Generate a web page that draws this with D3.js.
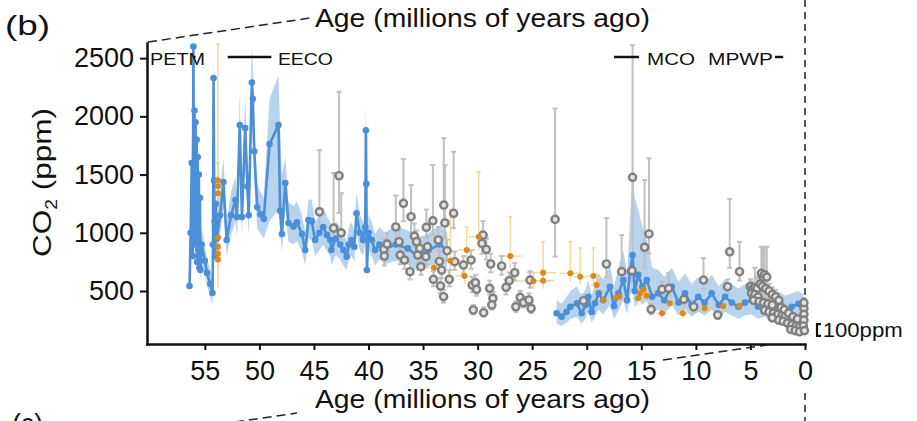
<!DOCTYPE html>
<html><head><meta charset="utf-8">
<script src="https://cdn.jsdelivr.net/npm/d3@7"></script>
<style>
html,body{margin:0;padding:0;background:#fff;}
svg{display:block;font-family:"Liberation Sans",Arial,Helvetica,sans-serif;}
</style></head><body>
<svg id="chart" width="917" height="421"></svg>
<script>
// ---------------- DATA ----------------
const xTicks = [55,50,45,40,35,30,25,20,15,10,5,0];
const yTicks = [500,1000,1500,2000,2500];

// Blue series (line + points + uncertainty band); null = gap
const blueAge = [56.4,56.3,56.2,56.1,56.05,56.0,55.95,55.9,55.85,55.8,55.75,55.7,55.65,55.6,55.55,55.5,55.45,55.4,55.3,55.0,54.8,54.5,54.3,54.25,54.2,54.15,54.1,54.05,54.0,53.9,53.6,53.3,53.0,52.6,52.2,52.05,51.8,51.6,51.3,51.1,50.98,50.69,50.6,50.47,50.2,49.9,49.6,49.07,48.25,48.1,47.94,47.63,47.33,46.87,46.56,46.1,45.8,45.5,45.2,44.9,44.5,44.15,43.8,43.5,43.4,43.0,42.6,42.3,42.0,41.8,41.55,41.3,41.1,40.8,40.5,40.3,40.24,40.2,40.15,40.0,39.7,39.4,39.0,38.5,37.5,36.4,35.5,34.5,33.5,32.8,
  27.8,
  22.76,22.3,21.85,21.5,20.9,20.47,20.1,19.86,19.55,19.25,18.9,18.5,17.87,17.5,17.1,16.65,16.3,16.04,15.8,15.6,15.28,14.9,14.5,14.0,13.45,12.9,12.2,11.6,11.0,10.4,9.78,9.2,8.55,7.9,7.33,6.7,6.11,5.5,4.89,4.3,3.7,3.05,2.5,1.8,1.22,0.6,0.15];
const blueCO2 = [543,1000,1600,800,2600,1350,2050,900,1950,1000,1800,750,1650,850,1500,700,1300,680,900,760,655,560,483,900,2330,1450,1100,800,1250,950,1150,1436,938,1150,1281,1135,1925,1135,1900,1400,1150,2290,2150,1700,1220,1160,1120,1763,1925,1190,990,1427,1084,1055,1090,990,852,1110,1100,938,1000,1050,980,938,852,950,900,852,795,900,938,880,1167,1000,938,1050,1880,1420,680,1000,938,852,900,860,900,866,800,850,900,850,
  null,
  309,280,322,365,394,309,380,451,320,394,480,420,537,370,480,594,420,666,809,500,640,537,594,450,480,420,537,400,480,380,451,400,480,380,451,400,365,400,423,365,394,337,365,330,365,390,365];
const blueLow = [430,820,1350,650,2250,1150,1800,750,1700,850,1550,620,1420,700,1280,580,1100,560,760,640,540,450,370,750,2050,1250,940,670,1050,800,980,1220,800,980,1100,970,1650,970,1630,1200,980,1950,1850,1450,1040,990,950,1100,1200,1000,840,1200,920,900,930,840,720,950,940,800,850,900,840,800,720,810,770,720,680,770,800,750,1000,850,800,900,1600,1200,580,850,800,720,770,730,760,730,670,710,750,700,
  null,
  220,200,230,260,280,220,270,320,230,280,340,300,380,260,330,420,300,450,520,350,430,380,420,320,340,300,380,290,340,280,320,290,340,270,320,290,260,290,300,260,280,240,260,230,260,280,250];
const blueHigh = [680,1200,1850,950,2630,1550,2300,1050,2200,1150,2050,880,1900,1000,1700,820,1500,800,1050,900,780,680,600,1050,2630,1650,1280,950,1450,1120,1350,1650,1100,1350,1480,1320,2200,1320,2180,1620,1340,2600,2450,1950,1420,1350,1300,2150,2350,1900,1500,1650,1260,1230,1270,1150,1000,1290,1280,1090,1160,1220,1140,1090,990,1100,1050,990,930,1050,1090,1020,1350,1160,1090,1220,2150,1650,800,1160,1090,990,1050,1000,1060,1020,950,1000,1060,1010,
  null,
  420,390,450,500,540,450,520,600,460,560,650,600,720,540,700,850,650,1100,1600,1300,1200,1050,950,700,680,620,700,580,650,560,620,560,640,540,600,560,520,560,580,520,540,480,500,460,480,500,470];

// Gray proxy points (open circles) with vertical error bars
const grayAge = [44.5,43.2,42.7,42.5,38.6,38.55,38.3,37.5,37.2,37.1,36.8,36.7,36.2,36.1,35.8,35.6,35.5,35.3,35.2,34.75,34.6,34.7,34.1,34.05,33.6,33.5,33.3,33.4,33.1,33.0,33.12,32.8,32.6,32.2,32.1,31.3,30.6,30.5,30.4,29.5,29.6,29.2,30.2,30.1,29.45,28.8,28.9,28.6,28.7,27.8,27.4,27.1,26.6,26.5,26.1,25.8,25.3,25.2,25.1,22.9,20.3,18.2,16.8,15.8,15.85,14.7,14.3,14.1,13.1,12.5,11.1,10.2,9.3,8.0,7.1,6.9,6.0,5.0,4.0,3.85,
  5.0,4.8,4.6,4.4,4.9,4.6,4.3,4.7,4.2,3.8,3.4,3.0,3.7,3.5,4.1,3.9,3.6,3.3,3.0,2.7,2.4,3.7,3.3,2.9,2.5,2.1,1.8,3.0,2.4,2.0,1.6,1.2,0.8,0.5,2.2,1.9,1.5,1.1,0.7,1.3,0.9,0.5,0.1,0.1,0.1,0.15,0.05,0.1];
const grayCO2 = [1180,1040,1490,1000,857,800,903,1050,923,809,1253,766,666,1138,972,923,809,866,709,795,880,1047,1103,600,938,754,680,543,1238,1084,451,846,600,1167,752,723,766,551,337,980,909,857,571,514,314,732,523,437,380,715,532,589,657,365,446,400,423,594,351,1115,417,732,666,1476,675,875,990,343,514,523,429,365,594,294,537,837,666,537,652,620,
  540,520,530,520,480,470,450,420,410,400,390,380,640,620,560,540,520,500,470,450,420,335,320,310,300,290,285,270,250,240,225,210,200,195,360,340,310,280,260,170,160,150,350,300,250,200,160,400];
const grayLow = [1050,950,1170,900,780,720,820,950,840,730,1100,690,600,1000,880,840,730,780,640,720,800,950,980,540,850,680,610,480,1100,960,400,760,540,1040,680,650,690,490,300,880,820,770,510,460,280,660,470,390,340,640,470,530,590,320,400,360,380,530,310,795,370,620,580,700,590,700,820,300,460,470,380,320,520,260,480,700,590,480,580,560,
  490,470,480,470,430,420,400,380,370,360,350,340,580,560,500,490,470,450,420,400,380,300,290,280,270,260,255,240,220,210,200,185,180,175,320,300,280,250,230,150,140,135,310,270,225,180,145,360];
const grayHigh = [1710,1513,2210,1340,950,880,1000,1320,1020,900,1633,850,760,1410,1080,1020,900,960,790,880,970,1200,1582,670,1050,840,760,610,1813,1580,510,940,680,1696,840,800,850,620,380,1100,1000,950,640,580,360,820,590,490,430,800,600,660,740,410,500,450,480,670,400,2068,470,1126,980,2611,800,1453,1640,390,580,654,480,410,783,330,600,1290,923,600,880,880,
  600,580,700,620,540,530,510,470,460,450,440,430,860,880,630,600,580,560,530,510,470,370,360,350,340,330,320,300,280,270,255,240,225,220,400,380,350,310,290,190,180,170,390,330,280,225,180,440];

// Orange proxy points with vertical and horizontal error bars
const orangeAge = [53.8,53.8,53.8,53.8,53.8,53.8,53.8,34.0,32.5,31.2,31.0,29.9,27.0,24.9,24.0,24.0,21.5,20.6,19.4,19.1,18.5,17.3,17.0,15.3,15.1,14.8,14.5,13.1,12.4,11.2,9.2,7.5,6.0];
const orangeCO2 = [1450,1400,1340,960,880,820,770,700,760,629,852,966,800,586,657,589,652,623,629,551,423,446,451,437,480,510,460,309,394,309,351,371,371];
const orangeLow = [1300,530,1200,860,790,740,690,620,650,560,760,850,700,520,580,520,580,560,560,490,370,390,400,380,420,450,400,270,350,270,310,330,330];
const orangeHigh = [1600,2620,1480,1060,970,900,850,1000,1200,700,1050,1524,1138,660,923,680,923,870,870,640,490,520,510,520,560,580,530,360,450,360,400,420,420];
const orangeAgeOld = [53.85,53.85,53.85,53.85,53.85,53.85,53.85,35.0,33.5,32.0,31.8,30.8,28.0,26.5,25.5,25.0,22.5,21.2,20.0,19.6,19.0,17.8,17.5,15.8,15.6,15.3,15.0,13.6,12.9,11.8,9.8,8.5,6.6];
const orangeAgeYoung = [53.75,53.75,53.75,53.75,53.75,53.75,53.75,33.0,31.5,30.5,30.2,29.0,26.0,23.3,22.8,23.0,20.5,20.0,18.8,18.6,18.0,16.8,16.5,14.8,14.6,14.3,14.0,12.6,11.9,10.6,8.6,6.5,5.4];

// Climate intervals annotated along the top
const periodNames = ["PETM","EECO","MCO","MPWP"];
const periodStart = [56.0,52.9,17.5,2.75];
const periodEnd = [55.85,48.9,15.2,2.0];

// ---------------- LAYOUT ----------------
const svg = d3.select("#chart");
const FONT = '"Liberation Sans",Arial,Helvetica,sans-serif';
const x = d3.scaleLinear().domain([60.3, 0]).range([147, 805]);
const y = d3.scaleLinear().domain([45, 2630]).range([344, 43]);

const blue = blueAge.map((a,i)=>({age:a, v:blueCO2[i], lo:blueLow[i], hi:blueHigh[i]}));
const gray = grayAge.map((a,i)=>({age:a, v:grayCO2[i], lo:grayLow[i], hi:grayHigh[i]}));
const orange = orangeAge.map((a,i)=>({age:a, v:orangeCO2[i], lo:orangeLow[i], hi:orangeHigh[i], a0:orangeAgeOld[i], a1:orangeAgeYoung[i]}));

// connector dashed lines (panel zoom guides)
const guides = svg.append("g").attr("stroke","#222").attr("fill","none").attr("stroke-width",1.5);
guides.append("line").attr("x1",148).attr("y1",42).attr("x2",310).attr("y2",18).attr("stroke-dasharray","9,5");
guides.append("line").attr("x1",x(0)).attr("y1",0).attr("x2",x(0)).attr("y2",300).attr("stroke-dasharray","7,5");
guides.append("line").attr("x1",x(0)).attr("y1",393).attr("x2",x(0)).attr("y2",421).attr("stroke-dasharray","7,5");
const gx0 = x(3.5), gy0 = 345, slope = 0.1447;
const gl = xx => gy0 + (gx0 - xx) * slope;
guides.append("line").attr("x1",235).attr("y1",gl(235)).attr("x2",297).attr("y2",gl(297)).attr("stroke-dasharray","9,5");
guides.append("line").attr("x1",663).attr("y1",gl(663)).attr("x2",gx0).attr("y2",gl(gx0)).attr("stroke-dasharray","9,5");

// clip
svg.append("defs").append("clipPath").attr("id","plotclip").append("rect")
  .attr("x",147).attr("y",43).attr("width",668).attr("height",301);
const plot = svg.append("g").attr("clip-path","url(#plotclip)");

// interval markers (behind data)
const ann = svg.append("g");
periodNames.forEach((n,i)=>{
  ann.append("line").attr("x1",x(periodStart[i])).attr("x2",x(periodEnd[i]))
    .attr("y1",57).attr("y2",57).attr("stroke","#111").attr("stroke-width",2.5);
});

// blue band
plot.append("path").datum(blue)
  .attr("d", d3.area().defined(d=>d.v!=null).x(d=>x(d.age)).y0(d=>y(d.lo)).y1(d=>y(d.hi)))
  .attr("fill","#6fa8dc").attr("fill-opacity",0.5);

// orange error bars
const ob = plot.append("g").attr("stroke","#efcb85").attr("stroke-opacity",0.7).attr("stroke-width",1.6);
orange.forEach(d=>{
  ob.append("line").attr("x1",x(d.age)).attr("x2",x(d.age)).attr("y1",y(d.lo)).attr("y2",y(d.hi));
  ob.append("line").attr("x1",x(d.age)-2).attr("x2",x(d.age)+2).attr("y1",y(d.hi)).attr("y2",y(d.hi));
  ob.append("line").attr("x1",x(d.a0)).attr("x2",x(d.a1)).attr("y1",y(d.v)).attr("y2",y(d.v));
});

// gray error bars
const gb = plot.append("g").attr("stroke","#c0c0c0").attr("stroke-width",2);
gray.forEach(d=>{
  gb.append("line").attr("x1",x(d.age)).attr("x2",x(d.age)).attr("y1",y(d.lo)).attr("y2",y(d.hi));
  gb.append("line").attr("x1",x(d.age)-2.5).attr("x2",x(d.age)+2.5).attr("y1",y(d.hi)).attr("y2",y(d.hi));
  gb.append("line").attr("x1",x(d.age)-2.5).attr("x2",x(d.age)+2.5).attr("y1",y(d.lo)).attr("y2",y(d.lo));
});

// blue line & points
plot.append("path").datum(blue)
  .attr("d", d3.line().defined(d=>d.v!=null).x(d=>x(d.age)).y(d=>y(d.v)))
  .attr("fill","none").attr("stroke","#4a8fd8").attr("stroke-width",2.6).attr("stroke-linejoin","round");
plot.append("g").selectAll("circle").data(blue.filter(d=>d.v!=null)).join("circle")
  .attr("cx",d=>x(d.age)).attr("cy",d=>y(d.v)).attr("r",3.3).attr("fill","#4a8fd8");

// gray circles
plot.append("g").selectAll("circle").data(gray).join("circle")
  .attr("cx",d=>x(d.age)).attr("cy",d=>y(d.v)).attr("r",3.6)
  .attr("fill","#e4e4e4").attr("stroke","#808080").attr("stroke-width",2.4);

// orange points
plot.append("g").selectAll("circle").data(orange).join("circle")
  .attr("cx",d=>x(d.age)).attr("cy",d=>y(d.v)).attr("r",3).attr("fill","#d98a1e");

// axes
const gyA = svg.append("g").attr("transform","translate(147,0)")
  .call(d3.axisLeft(y).tickValues(yTicks).tickFormat(d3.format("d")).tickSize(7).tickPadding(6).tickSizeOuter(0));
gyA.attr("font-size",27).attr("font-family",FONT);
gyA.select(".domain").attr("stroke","#111").attr("stroke-width",2.5).attr("stroke-linecap","square");
gyA.selectAll(".tick line").attr("stroke","#111").attr("stroke-width",2);
gyA.selectAll(".tick text").attr("fill","#111");

const gxA = svg.append("g").attr("transform","translate(0,344)")
  .call(d3.axisBottom(x).tickValues(xTicks).tickFormat(d3.format("d")).tickSize(6).tickSizeOuter(0));
gxA.attr("font-size",27).attr("font-family",FONT);
gxA.select(".domain").attr("stroke","#111").attr("stroke-width",2.5).attr("stroke-linecap","square");
gxA.selectAll(".tick line").attr("stroke","#111").attr("stroke-width",2);
gxA.selectAll(".tick text").attr("fill","#111").attr("dy",null).attr("y",36);

// interval labels
const lab = [
  {t:"PETM", x0:150, w:55},
  {t:"EECO", x0:x(periodEnd[1])+6.5, w:55},
  {t:"MCO",  x0:x(periodEnd[2])+8, w:48},
  {t:"MPWP", x0:x(periodStart[3])-67, w:65}
];
lab.forEach(l=>{
  svg.append("text").attr("x",l.x0).attr("y",64.5).attr("font-size",16.5).attr("font-family",FONT)
    .attr("fill","#111").attr("textLength",l.w).attr("lengthAdjust","spacingAndGlyphs").text(l.t);
});

// titles
function txt(t, xx, yy, fs, w){
  return svg.append("text").attr("x",xx).attr("y",yy).attr("font-size",fs).attr("font-family",FONT)
    .attr("fill","#111").attr("textLength",w).attr("lengthAdjust","spacingAndGlyphs").text(t);
}
txt("Age (millions of years ago)", 315, 27, 25, 335);
txt("Age (millions of years ago)", 315, 408, 25, 335);
txt("(b)", 5, 35, 27, 45);
txt("(c)", 12, 433, 27, 31);

// y title
const yt = svg.append("text").attr("transform","translate(51,182.5) rotate(-90)")
  .attr("text-anchor","middle").attr("font-size",26).attr("font-family",FONT).attr("fill","#111")
  .attr("textLength",149).attr("lengthAdjust","spacingAndGlyphs");
yt.append("tspan").text("CO");
yt.append("tspan").attr("font-size",16).attr("dy",6).text("2");
yt.append("tspan").attr("dy",-6).text(" (ppm)");

// 100 ppm scale bar
const sb0 = 115, sb1 = 215, sbx = 817;
svg.append("path").attr("d",`M${sbx+4},${y(sb1)}H${sbx}V${y(sb0)}H${sbx+4}`)
  .attr("fill","none").attr("stroke","#111").attr("stroke-width",2.2);
txt("100ppm", 822.7, 336.7, 19.5, 80);
</script></body></html>
